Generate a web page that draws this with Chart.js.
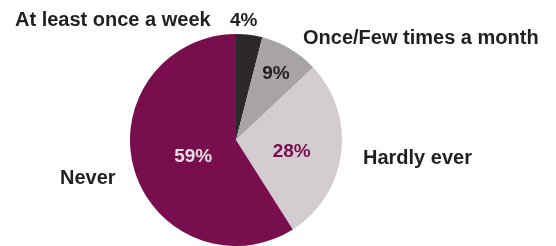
<!DOCTYPE html>
<html>
<head>
<meta charset="utf-8">
<script src="https://cdn.jsdelivr.net/npm/chart.js@4"></script>
<style>
  html, body { margin: 0; padding: 0; background: #fff; overflow: hidden; }
  #wrap { position: relative; width: 556px; height: 246px; }
</style>
</head>
<body>
<div id="wrap"><canvas id="pie" width="556" height="246"></canvas></div>
<script>
// Данные
const categories = ['At least once a week', 'Once/Few times a month', 'Hardly ever', 'Never'];
const shares = [4, 9, 28, 59];
const shareLabels = ['4%', '9%', '28%', '59%'];

// Цвета сегментов и подписей процентов
const sliceColors = ['#2b272a', '#a8a3a7', '#d4cdd2', '#790e4f'];
const pctColors = ['#231f20', '#231f20', '#790e4f', '#e4dde2'];

// Расположение подписей (доля радиуса, сдвиг / смещение от центра)
const pctRadius = [1.13, 0.74, 0.53, 0.43];
const pctShift = [{ dx: -21, dy: 0 }, { dx: 0, dy: 1 }, { dx: 0, dy: 5 }, { dx: 1, dy: 4 }];
const pctAlign = ['left', 'center', 'center', 'center'];
const catPos = [
  { dx: -221, dy: -120, align: 'left' },
  { dx: 67, dy: -102, align: 'left' },
  { dx: 127, dy: 18, align: 'left' },
  { dx: -176, dy: 38, align: 'left' }
];

// Мелкая растровая текстура для серых сегментов
function halftone(a, b) {
  const c = document.createElement('canvas');
  c.width = 2; c.height = 2;
  const g = c.getContext('2d');
  g.fillStyle = a; g.fillRect(0, 0, 2, 2);
  g.fillStyle = b; g.fillRect(0, 0, 1, 1); g.fillRect(1, 1, 1, 1);
  return g.createPattern(c, 'repeat');
}

const fills = [
  sliceColors[0],
  halftone('#aea9ad', '#a29da1'),
  halftone('#d7d1d5', '#cec7cc'),
  sliceColors[3]
];

const textPlugin = {
  id: 'pieText',
  afterDraw(chart) {
    const ctx = chart.ctx;
    const arcs = chart.getDatasetMeta(0).data;
    if (!arcs.length) return;
    const cx = arcs[0].x, cy = arcs[0].y, r = arcs[0].outerRadius;
    ctx.save();
    ctx.textBaseline = 'middle';

    // проценты
    ctx.font = 'bold 19px "Liberation Sans", Arial, sans-serif';
    arcs.forEach((arc, i) => {
      const mid = (arc.startAngle + arc.endAngle) / 2;
      const x = cx + Math.cos(mid) * r * pctRadius[i] + pctShift[i].dx;
      const y = cy + Math.sin(mid) * r * pctRadius[i] + pctShift[i].dy;
      ctx.fillStyle = pctColors[i];
      ctx.textAlign = pctAlign[i];
      ctx.fillText(shareLabels[i], x, y);
    });

    // названия категорий
    ctx.font = 'bold 20px "Liberation Sans", Arial, sans-serif';
    ctx.fillStyle = '#231f20';
    categories.forEach((name, i) => {
      ctx.textAlign = catPos[i].align;
      ctx.fillText(name, cx + catPos[i].dx, cy + catPos[i].dy);
    });
    ctx.restore();
  }
};

new Chart(document.getElementById('pie'), {
  type: 'pie',
  data: {
    labels: categories,
    datasets: [{
      data: shares,
      backgroundColor: fills,
      borderWidth: 0
    }]
  },
  options: {
    responsive: false,
    animation: false,
    layout: { padding: { left: 0, right: 84, top: 34, bottom: 0 } },
    plugins: {
      legend: { display: false },
      tooltip: { enabled: false }
    }
  },
  plugins: [textPlugin]
});
</script>
</body>
</html>
